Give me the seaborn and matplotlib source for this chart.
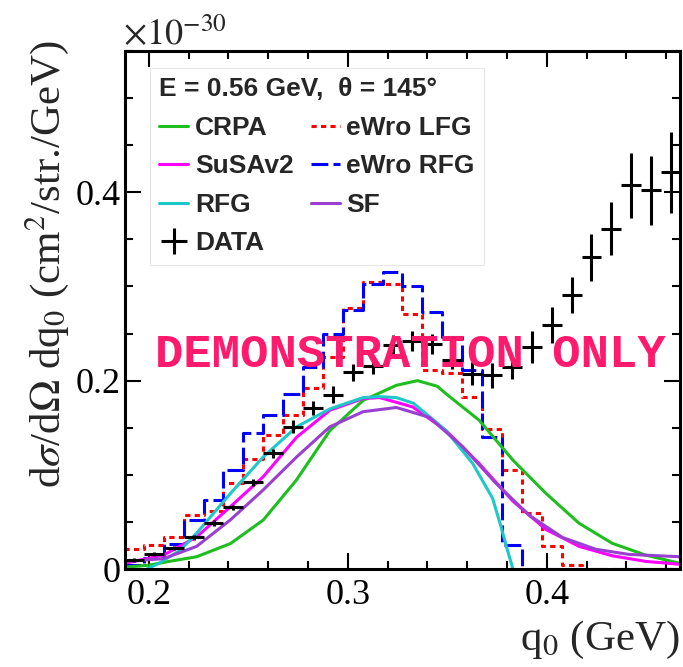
import numpy as np
import seaborn as sns
import matplotlib.pyplot as plt
from matplotlib.lines import Line2D
from matplotlib.ticker import MultipleLocator
from matplotlib.font_manager import FontProperties

# ---- data (units of 1e-30 cm^2/str./GeV) ----
# bin centres of the data / eWro histograms
q0_bins = [0.1925, 0.2025, 0.2125, 0.2225, 0.2325, 0.2425, 0.2525, 0.2625, 0.2725, 0.2825,
           0.2925, 0.3025, 0.3125, 0.3225, 0.3325, 0.3425, 0.3525, 0.3625, 0.3725, 0.3825,
           0.3925, 0.4025, 0.4125, 0.4225, 0.4325, 0.4425, 0.4525, 0.4625]
data_y = [0.0095, 0.0159, 0.0219, 0.0336, 0.0485, 0.0654, 0.092, 0.1227, 0.151, 0.171,
          0.185, 0.209, 0.216, 0.238, 0.242, 0.239, 0.2216, 0.2075, 0.2057, 0.2145,
          0.2357, 0.2587, 0.2906, 0.3312, 0.3612, 0.4072, 0.4019, 0.4213]
data_err = [0.002, 0.002, 0.002, 0.003, 0.003, 0.003, 0.004, 0.005, 0.007, 0.007,
            0.009, 0.009, 0.009, 0.010, 0.011, 0.011, 0.009, 0.012, 0.013, 0.013,
            0.017, 0.019, 0.019, 0.025, 0.028, 0.034, 0.037, 0.043]
ewro_lfg = [0.021, 0.026, 0.034, 0.057, 0.062, 0.091, 0.117, 0.142, 0.163, 0.192,
            0.225, 0.277, 0.305, 0.303, 0.271, 0.211, 0.208, 0.183, 0.149, 0.105,
            0.059, 0.024, 0.004, 0.0, 0.0, 0.0, 0.0, 0.0]
ewro_rfg = [0.004, 0.012, 0.027, 0.052, 0.073, 0.105, 0.144, 0.163, 0.186, 0.2145,
            0.25, 0.275, 0.303, 0.315, 0.301, 0.273, 0.246, 0.211, 0.140, 0.0254,
            0.0, 0.0, 0.0, 0.0, 0.0, 0.0, 0.0, 0.0]

crpa_x = [0.188, 0.200, 0.210, 0.224, 0.241, 0.2575, 0.274, 0.291, 0.3077, 0.3244, 0.335,
          0.345, 0.3494, 0.366, 0.383, 0.3996, 0.4163, 0.433, 0.4497, 0.467]
crpa_y = [0.002, 0.004, 0.008, 0.013, 0.027, 0.052, 0.094, 0.147, 0.179, 0.195, 0.200,
          0.194, 0.186, 0.158, 0.1156, 0.0803, 0.0485, 0.0272, 0.0148, 0.006]
susa_x = [0.188, 0.2074, 0.224, 0.2409, 0.2575, 0.2743, 0.291, 0.3077, 0.316, 0.3327,
          0.3494, 0.366, 0.383, 0.3996, 0.4163, 0.433, 0.450, 0.467]
susa_y = [0.006, 0.0148, 0.034, 0.066, 0.098, 0.140, 0.1686, 0.181, 0.182, 0.172,
          0.147, 0.112, 0.072, 0.042, 0.024, 0.014, 0.008, 0.005]
rfg_x = [0.199, 0.205, 0.2158, 0.224, 0.2409, 0.2575, 0.2743, 0.291, 0.3077, 0.316,
         0.3244, 0.333, 0.3494, 0.3628, 0.3728, 0.377, 0.380, 0.383]
rfg_y = [0.0, 0.006, 0.020, 0.038, 0.080, 0.119, 0.151, 0.170, 0.182, 0.183,
         0.182, 0.176, 0.147, 0.112, 0.075, 0.045, 0.022, 0.0]
sf_x = [0.188, 0.2074, 0.224, 0.2409, 0.2575, 0.2743, 0.291, 0.3077, 0.3244, 0.341,
        0.3578, 0.3745, 0.3912, 0.4079, 0.4246, 0.4413, 0.467]
sf_y = [0.008, 0.011, 0.024, 0.052, 0.084, 0.119, 0.151, 0.167, 0.1715, 0.161,
        0.1297, 0.091, 0.057, 0.0335, 0.021, 0.0155, 0.013]

C_CRPA, C_SUSA, C_RFG, C_SF = '#1ebe1e', '#ff00ff', '#1ec8c8', '#9a40d0'
C_LFG, C_RFGW = '#ff0000', '#0000ff'

sns.set_style('ticks')
plt.rcParams['font.family'] = ['Liberation Serif', 'DejaVu Serif']
plt.rcParams['mathtext.fontset'] = 'stix'

fig = plt.figure(figsize=(6.83, 6.67), dpi=100)
ax = fig.add_axes([125 / 683, 98 / 667, 555 / 683, 518 / 667])

LW = 2.2
sns.histplot(x=q0_bins, weights=ewro_lfg, bins=28, binrange=(0.1875, 0.4675),
             element='step', fill=False, color=C_LFG, lw=LW, linestyle=(0, (1.7, 1.4)), ax=ax)
sns.histplot(x=q0_bins, weights=ewro_rfg, bins=28, binrange=(0.1875, 0.4675),
             element='step', fill=False, color=C_RFGW, lw=LW, linestyle=(0, (5.5, 1.7)), ax=ax)

sns.lineplot(x=crpa_x, y=crpa_y, color=C_CRPA, lw=LW, ax=ax)
sns.lineplot(x=susa_x, y=susa_y, color=C_SUSA, lw=LW, ax=ax)
sns.lineplot(x=rfg_x, y=rfg_y, color=C_RFG, lw=LW, ax=ax)
sns.lineplot(x=sf_x, y=sf_y, color=C_SF, lw=LW, ax=ax)

data_h = ax.errorbar(q0_bins, data_y, xerr=0.005, yerr=data_err, fmt='none',
                     ecolor='black', elinewidth=2.2, capsize=0, zorder=5)

ax.set_xlim(0.188, 0.467)
ax.set_ylim(0, 0.55)
ax.set_xlabel('')
ax.set_ylabel('')
ax.xaxis.set_major_locator(MultipleLocator(0.1))
ax.xaxis.set_minor_locator(MultipleLocator(0.02))
ax.yaxis.set_major_locator(MultipleLocator(0.2))
ax.yaxis.set_minor_locator(MultipleLocator(0.05))
ax.set_xticks([0.2, 0.3, 0.4])
ax.set_xticklabels(['0.2', '0.3', '0.4'])
ax.set_yticks([0, 0.2, 0.4])
ax.set_yticklabels(['0', '0.2', '0.4'])
ax.tick_params(which='both', direction='in', top=True, right=True, width=1.5,
               colors='black', labelsize=26)
ax.tick_params(which='major', length=11.5)
ax.tick_params(which='minor', length=6)
ax.tick_params(axis='x', pad=7)
ax.tick_params(axis='y', pad=3)
for s in ax.spines.values():
    s.set_linewidth(2.2)
    s.set_color('black')
    s.set_zorder(10)

# legend
lp = FontProperties(family='Liberation Sans', weight='bold', size=19)
handles = [Line2D([], [], color=C_CRPA, lw=LW),
           Line2D([], [], color=C_SUSA, lw=LW),
           Line2D([], [], color=C_RFG, lw=LW),
           data_h,
           Line2D([], [], color=C_LFG, lw=LW, linestyle=(0, (1.7, 1.4))),
           Line2D([], [], color=C_RFGW, lw=LW, linestyle=(0, (5.5, 1.7))),
           Line2D([], [], color=C_SF, lw=LW)]
labels = ['CRPA', 'SuSAv2', 'RFG', 'DATA', 'eWro LFG', 'eWro RFG', 'SF']
leg = ax.legend(handles, labels, ncol=2, title='E = 0.56 GeV,  θ = 145°',
                loc='upper left', bbox_to_anchor=(0.045, 0.967), borderaxespad=0,
                prop=lp, title_fontproperties=lp, alignment='left',
                handlelength=1.1, handletextpad=0.25, columnspacing=0.65,
                labelspacing=0.55, borderpad=0.35, fancybox=False,
                frameon=True, edgecolor='#e6e6e6', framealpha=1)
leg.get_frame().set_linewidth(0.8)
leg.set_zorder(8)

fig.text(123 / 683, 1 - 45 / 667, r'$\times10^{-30}$', fontsize=26, ha='left', va='baseline')
fig.text(0.068, 1 - 40 / 667, r'd$\sigma$/d$\Omega$ dq$_0$ (cm$^2$/str./GeV)',
         fontsize=31, rotation=90, ha='center', va='top')
fig.text(680 / 683, 1 - 650 / 667, r'q$_0$ (GeV)', fontsize=31, ha='right', va='baseline')

fig.text(410 / 683, 1 - 355 / 667, 'DEMONSTRATION ONLY', fontsize=34,
         family='Liberation Mono', weight='bold', color='#ff1a6e',
         ha='center', va='center', zorder=20)

fig.savefig('out.png', dpi=100)
